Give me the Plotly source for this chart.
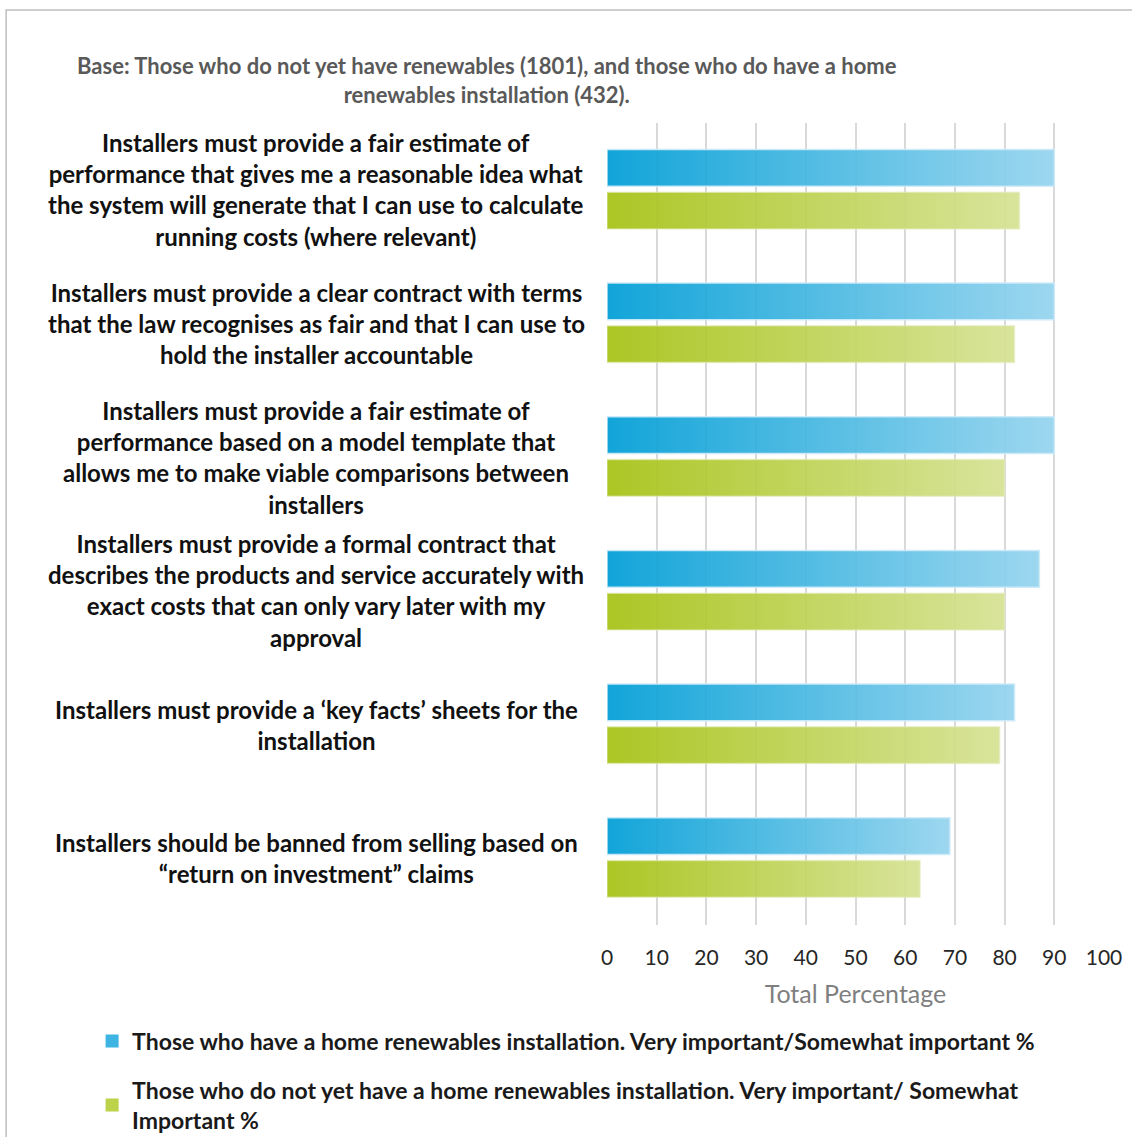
import plotly.graph_objects as go

# Survey statements (line breaks as laid out beside each bar pair)
categories = [
    "Installers must provide a fair estimate of<br>performance that gives me a reasonable idea what<br>the system will generate that I can use to calculate<br>running costs (where relevant)",
    "Installers must provide a clear contract with terms<br>that the law recognises as fair and that I can use to<br>hold the installer accountable",
    "Installers must provide a fair estimate of<br>performance based on a model template that<br>allows me to make viable comparisons between<br>installers",
    "Installers must provide a formal contract that<br>describes the products and service accurately with<br>exact costs that can only vary later with my<br>approval",
    "Installers must provide a \u2018key facts\u2019 sheets for the<br>installation",
    "Installers should be banned from selling based on<br>\u201creturn on investment\u201d claims",
]

# Very important / somewhat important, %
have_renewables = [90, 90, 90, 87, 82, 69]
no_renewables_yet = [83, 82, 80, 80, 79, 63]

series_names = [
    "Those who have a home renewables installation. Very important/Somewhat important %",
    "Those who do not yet have a home renewables installation. Very important/ Somewhat<br>Important %",
]

x_ticks = list(range(0, 101, 10))

title_text = ("Base: Those who do not yet have renewables (1801), and those who do have a home<br>"
              "renewables installation (432).")

# Styling
FONT = "Lato"
BAR_THICK = 0.275
OFFSETS = [-0.165, 0.155]
GRADIENTS = [
    [[0, "rgba(0,158,214,0.93)"], [1, "rgba(150,212,238,0.93)"]],
    [[0, "rgba(166,194,20,0.93)"], [1, "rgba(214,226,148,0.93)"]],
]
LEGEND_COLORS = ["#3DB4E2", "#BCD24A"]
OUTLINES = ["rgba(205,234,248,0.95)", "rgba(226,236,190,0.6)"]

fig = go.Figure()

series_values = [have_renewables, no_renewables_yet]
for s, values in enumerate(series_values):
    for i, v in enumerate(values):
        y0 = i + OFFSETS[s] - BAR_THICK / 2
        y1 = i + OFFSETS[s] + BAR_THICK / 2
        fig.add_trace(go.Scatter(
            x=[0, v, v, 0, 0],
            y=[y0, y0, y1, y1, y0],
            mode="lines",
            fill="toself",
            fillgradient=dict(type="horizontal", colorscale=GRADIENTS[s]),
            line=dict(color=OUTLINES[s], width=1.5),
            showlegend=False,
            hoveron="fills",
            name=f"{v}%",
            hoverinfo="name",
        ))

# Legend entries (square swatches)
for s, name in enumerate(series_names):
    fig.add_trace(go.Scatter(
        x=[None], y=[None], mode="markers", name=name,
        legendgroup=f"series{s}",
        marker=dict(symbol="square", size=13, color=LEGEND_COLORS[s]),
    ))

# Statement labels, centred to the left of each pair of bars
for i, label in enumerate(categories):
    fig.add_annotation(
        x=-0.5855, xref="paper", y=i, yref="y",
        text=label, showarrow=False, xanchor="center", yanchor="middle",
        align="center",
        font=dict(family=FONT, size=24, color="#111111", weight="bold"),
    )

# Outer chart frame
fig.add_shape(
    type="rect", xref="paper", yref="paper",
    x0=-1.209, x1=1.08, y0=-0.28, y1=1.1409,
    line=dict(color="#BFBFBF", width=1.5), fillcolor="rgba(0,0,0,0)", layer="below",
)

fig.update_layout(
    width=1132, height=1137,
    margin=dict(l=607, r=28, t=123, b=212, autoexpand=False),
    paper_bgcolor="white", plot_bgcolor="white",
    title=dict(
        text=title_text, x=0.43, xref="container", xanchor="center",
        y=1 - 74 / 1137, yref="container", yanchor="middle",
        font=dict(family=FONT, size=22, color="#595959", weight="bold"),
    ),
    xaxis=dict(
        range=[0, 100], tickvals=x_ticks, ticktext=[str(t) for t in x_ticks],
        showgrid=True, gridcolor="#D9D9D9", gridwidth=2,
        zeroline=False, showline=False,
        ticks="outside", ticklen=14, tickcolor="rgba(0,0,0,0)",
        tickfont=dict(family=FONT, size=21, color="#262626"),
        title=dict(text="Total Percentage", standoff=17,
                   font=dict(family=FONT, size=25, color="#7F7F7F")),
        fixedrange=True,
    ),
    yaxis=dict(
        range=[5.5, -0.5], showticklabels=False, showgrid=False,
        zeroline=False, showline=False, ticks="", fixedrange=True,
    ),
    legend=dict(
        x=-1.036, xanchor="left", xref="paper",
        y=-0.118, yanchor="top", yref="paper",
        orientation="v", bgcolor="rgba(0,0,0,0)",
        font=dict(family=FONT, size=23, color="#1A1A1A", weight="bold"),
        tracegroupgap=16, itemwidth=30,
    ),
)

fig.write_html("out.html")
